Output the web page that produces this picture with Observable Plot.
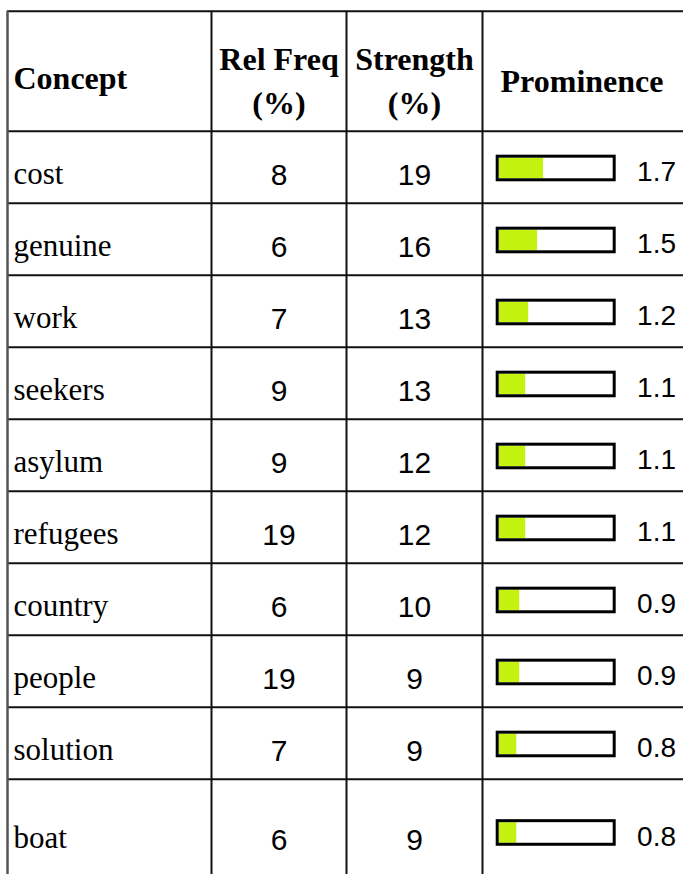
<!DOCTYPE html>
<html><head><meta charset="utf-8">
<script src="https://cdn.jsdelivr.net/npm/d3@7"></script>
<script src="https://cdn.jsdelivr.net/npm/@observablehq/plot@0.6"></script>
<style>html,body{margin:0;padding:0;background:#fff;}</style>
</head><body><div id="chart"></div>
<script>
// ---- data ----
const concepts = ["cost","genuine","work","seekers","asylum","refugees","country","people","solution","boat"];
const relFreq = [8,6,7,9,9,19,6,19,7,6];
const strength = [19,16,13,13,12,12,10,9,9,9];
const prominence = [1.7,1.5,1.2,1.1,1.1,1.1,0.9,0.9,0.8,0.8];
const headers = ["Concept","Rel Freq\n(%)","Strength\n(%)","Prominence"];

// ---- layout ----
const W = 683, H = 874;
const ROW = 72;                 // px per row unit
const headerRows = 120 / ROW;   // header height in row units
const lastRows = 105 / ROW;     // last row is taller
const colEdges = [7, 211, 346, 482];
const colMid = [13, (211 + 346) / 2, (346 + 482) / 2, 581.5];
const px = p => p / ROW;

const rows = concepts.map((c, i) => {
  const top = i, bottom = i === concepts.length - 1 ? i + lastRows : i + 1;
  return {concept: c, rel: relFreq[i], str: strength[i], prom: prominence[i], top, bottom, center: (top + bottom) / 2};
});
const headerData = headers.map((h, i) => ({label: h, x: colMid[i], first: i === 0}));

const barScale = Plot.scale({x: {type: "linear", domain: [0.21, 4.04], range: [498.7, 612.7]}});
const fmt = d3.format(".1f");
const serif = "Liberation Serif, Times New Roman, serif";
const sans = "Liberation Sans, Arial, sans-serif";

const chart = Plot.plot({
  width: W, height: H, margin: 0,
  style: {background: "white"},
  x: {domain: [0, W], range: [0, W], axis: null},
  y: {domain: [-1.815, 10.324], range: [0, H], axis: null},
  marks: [
    // bar fills
    Plot.rect(rows, {
      x1: () => 498.7, x2: d => barScale.apply(d.prom),
      y1: d => d.center + px(1.3 - 10.3), y2: d => d.center + px(1.3 + 10.3),
      fill: "#c2f20e"
    }),
    // bar frames
    Plot.rect(rows, {
      x1: () => 497.2, x2: () => 614.2,
      y1: d => d.center + px(1.3 - 11.8), y2: d => d.center + px(1.3 + 11.8),
      fill: "none", stroke: "black", strokeWidth: 3
    }),
    // grid lines
    Plot.ruleY([-headerRows, ...rows.map(d => d.top)], {x1: () => 7, x2: () => W + 10, stroke: "#111", strokeWidth: 2}),
    Plot.ruleX(colEdges.slice(1), {y1: () => -headerRows, y2: () => 10.5, stroke: "#111", strokeWidth: 2}),
    Plot.ruleX(colEdges.slice(0, 1), {y1: () => -headerRows, y2: () => 10.5, stroke: "#555", strokeWidth: 2.5}),
    // header text
    Plot.text(headerData.filter(d => !d.first), {
      x: "x", y: () => -headerRows / 2, text: "label", textAnchor: "middle",
      fontFamily: serif, fontWeight: "bold", fontSize: 32, lineHeight: 1.375,
      dy: 7.1, fill: "black"
    }),
    Plot.text(headerData.filter(d => d.first), {
      x: "x", y: () => -headerRows / 2, text: "label", textAnchor: "start",
      fontFamily: serif, fontWeight: "bold", fontSize: 32, dy: 7.1, fill: "black"
    }),
    // concept labels
    Plot.text(rows, {
      x: () => 13, y: "center", text: "concept", textAnchor: "start",
      fontFamily: serif, fontSize: 31, dy: 6.7, fill: "black"
    }),
    // rel freq
    Plot.text(rows, {
      x: () => colMid[1], y: "center", text: d => String(d.rel),
      fontFamily: sans, fontSize: 30, dy: 8.4, fill: "black"
    }),
    // strength
    Plot.text(rows, {
      x: () => colMid[2], y: "center", text: d => String(d.str),
      fontFamily: sans, fontSize: 30, dy: 8.4, fill: "black"
    }),
    // prominence values
    Plot.text(rows, {
      x: () => 675.5, y: "center", text: d => fmt(d.prom), textAnchor: "end",
      fontFamily: sans, fontSize: 28, dy: 5, fill: "black"
    })
  ]
});
document.getElementById("chart").appendChild(chart);
</script>
</body></html>
